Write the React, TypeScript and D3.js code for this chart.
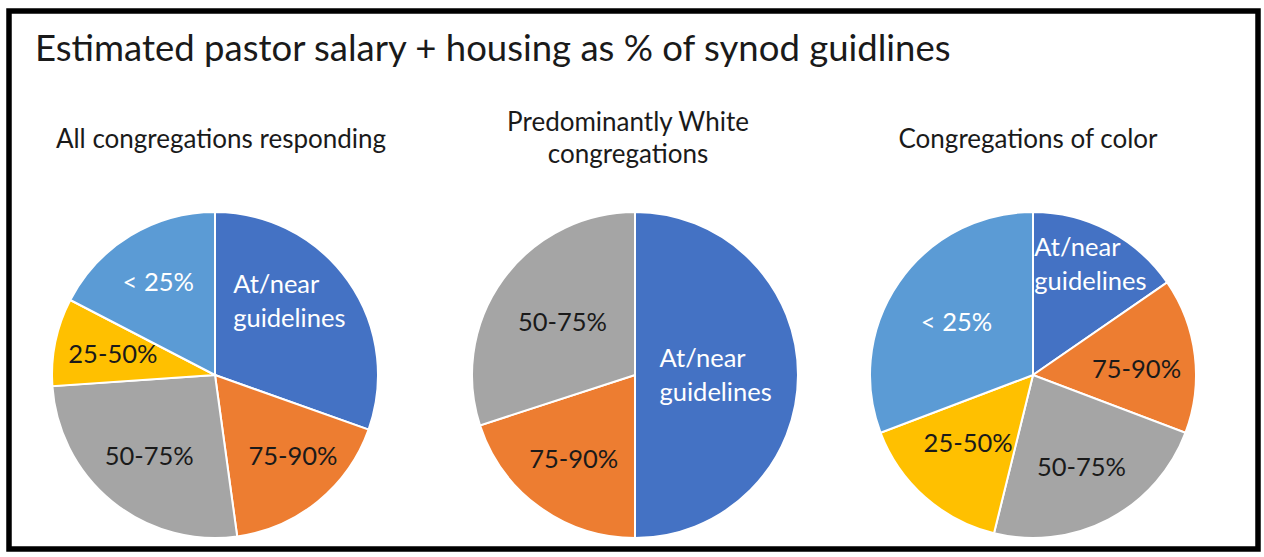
import React, { useEffect, useRef } from "react";
import * as d3 from "d3";

// categories, clockwise from 12 o'clock
const categories = ["At/near guidelines", "75-90%", "50-75%", "25-50%", "< 25%"];

// congregation counts
const allValues = [7, 4, 6, 2, 4];
const whiteValues = [5, 2, 3, 0, 0];
const colorValues = [2, 2, 3, 2, 4];

const chartTitles = [
  ["All congregations responding"],
  ["Predominantly White", "congregations"],
  ["Congregations of color"],
];

const mainTitle = "Estimated pastor salary + housing as % of synod guidlines";

const colors = ["#4472C4", "#ED7D31", "#A5A5A5", "#FFC000", "#5B9BD5"];
const textColors = ["#ffffff", "#1a1a1a", "#1a1a1a", "#1a1a1a", "#ffffff"];

const FONT = "Lato, 'Open Sans', sans-serif";

const App = () => {
  const ref = useRef<SVGSVGElement>(null);

  useEffect(() => {
    const width = 1264;
    const height = 557;
    const svg = d3.select(ref.current);
    svg.selectAll("*").remove();

    svg.append("rect")
      .attr("width", width)
      .attr("height", height)
      .attr("fill", "#ffffff");

    // black frame
    svg.append("rect")
      .attr("x", 9)
      .attr("y", 11)
      .attr("width", 1249)
      .attr("height", 538)
      .attr("fill", "none")
      .attr("stroke", "#000")
      .attr("stroke-width", 5.5);

    svg.append("text")
      .attr("x", 35)
      .attr("y", 61)
      .attr("font-family", FONT)
      .attr("font-size", 36.5)
      .attr("fill", "#1a1a1a")
      .text(mainTitle);

    const radius = 163;
    const centers = [215, 635, 1033];
    const titleX = [221, 628, 1028];
    const cy = 375;
    const datasets = [allValues, whiteValues, colorValues];

    // label distance as a share of the radius, plus small nudges (Excel "best fit")
    const labelFactor: { [k: string]: number } = {
      "0-1": 0.69,
      "0-4": 0.67,
      "1-0": 0.5,
      "1-2": 0.55,
      "2-0": 0.77,
      "2-3": 0.6,
      "2-4": 0.57,
    };
    const labelNudge: { [k: string]: number[] } = {
      "0-0": [-10, -14],
      "0-1": [7, -6],
      "2-1": [0, 7],
      "2-3": [0, -5],
    };

    const pie = d3.pie<number>().sort(null).value((d) => d);
    const arc = d3.arc<d3.PieArcDatum<number>>().innerRadius(0).outerRadius(radius);

    datasets.forEach((values, ci) => {
      const g = svg.append("g").attr("transform", "translate(" + centers[ci] + "," + cy + ")");
      const arcs = pie(values).filter((d) => d.value > 0);

      g.selectAll("path")
        .data(arcs)
        .enter()
        .append("path")
        .attr("d", arc)
        .attr("fill", (d) => colors[d.index])
        .attr("stroke", "#ffffff")
        .attr("stroke-width", 2);

      const labels = g.selectAll("g.lbl")
        .data(arcs)
        .enter()
        .append("g")
        .attr("class", "lbl")
        .attr("transform", (d) => {
          const key = ci + "-" + d.index;
          const f = labelFactor[key] || 0.64;
          const r = radius * f;
          const la = d3.arc<d3.PieArcDatum<number>>().innerRadius(r).outerRadius(r);
          const [x, y] = la.centroid(d);
          const n = labelNudge[key] || [0, 0];
          return "translate(" + (x + n[0]) + "," + (y + n[1]) + ")";
        });

      labels.each(function (d) {
        const name = categories[d.index];
        const lines = name === "At/near guidelines" ? ["At/near", "guidelines"] : [name];
        const lineH = 34;
        const t = d3.select(this).append("text")
          .attr("text-anchor", lines.length > 1 ? "start" : "middle")
          .attr("font-family", FONT)
          .attr("font-size", 25.5)
          .attr("fill", textColors[d.index]);
        lines.forEach((ln, li) => {
          t.append("tspan")
            .attr("x", lines.length > 1 ? -57 : 0)
            .attr("y", (li - (lines.length - 1) / 2) * lineH + 9)
            .text(ln);
        });
      });

      const tl = chartTitles[ci];
      const tt = svg.append("text")
        .attr("text-anchor", "middle")
        .attr("font-family", FONT)
        .attr("font-size", 26)
        .attr("fill", "#1a1a1a");
      tl.forEach((ln, li) => {
        tt.append("tspan")
          .attr("x", titleX[ci])
          .attr("y", tl.length > 1 ? 131 + li * 32 : 148)
          .text(ln);
      });
    });
  }, []);

  return (
    <svg
      ref={ref}
      width={1264}
      height={557}
      style={{ position: "absolute", left: 0, top: 0 }}
    />
  );
};

export default App;
